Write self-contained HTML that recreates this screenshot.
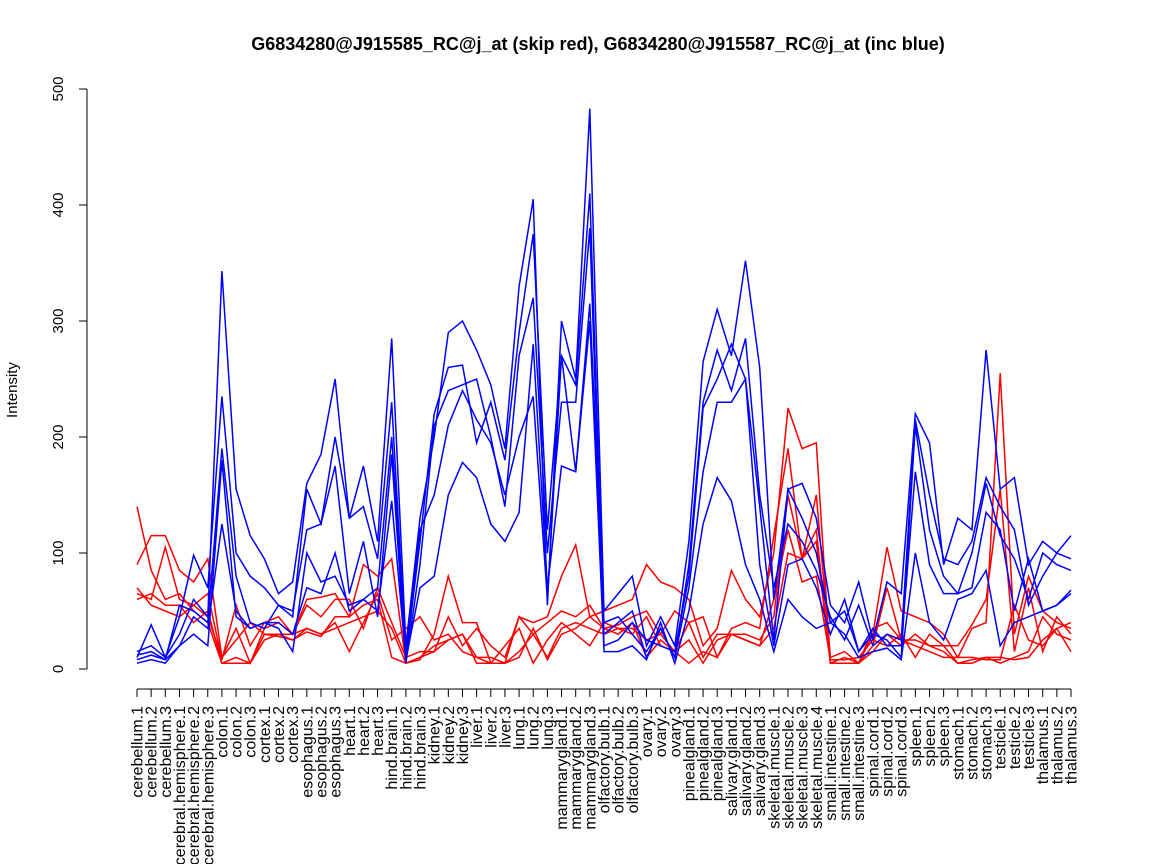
<!DOCTYPE html>
<html><head><meta charset="utf-8">
<style>
html,body{margin:0;padding:0;background:#fff;}
svg{display:block;font-family:"Liberation Sans",sans-serif;}
</style></head>
<body>
<svg id="chart" width="1152" height="864" viewBox="0 0 1152 864" xmlns="http://www.w3.org/2000/svg">
<text x="598" y="50" text-anchor="middle" font-size="18" font-weight="bold">G6834280@J915585_RC@j_at (skip red), G6834280@J915587_RC@j_at (inc blue)</text>
<text transform="translate(17,390) rotate(-90)" text-anchor="middle" font-size="15">Intensity</text>
<g id="axes"></g>
<g id="series"></g>
</svg>
<script>
const categories = ["cerebellum.1","cerebellum.2","cerebellum.3","cerebral.hemisphere.1","cerebral.hemisphere.2","cerebral.hemisphere.3","colon.1","colon.2","colon.3","cortex.1","cortex.2","cortex.3","esophagus.1","esophagus.2","esophagus.3","heart.1","heart.2","heart.3","hind.brain.1","hind.brain.2","hind.brain.3","kidney.1","kidney.2","kidney.3","liver.1","liver.2","liver.3","lung.1","lung.2","lung.3","mammarygland.1","mammarygland.2","mammarygland.3","olfactory.bulb.1","olfactory.bulb.2","olfactory.bulb.3","ovary.1","ovary.2","ovary.3","pinealgland.1","pinealgland.2","pinealgland.3","salivary.gland.1","salivary.gland.2","salivary.gland.3","skeletal.muscle.1","skeletal.muscle.2","skeletal.muscle.3","skeletal.muscle.4","small.intestine.1","small.intestine.2","small.intestine.3","spinal.cord.1","spinal.cord.2","spinal.cord.3","spleen.1","spleen.2","spleen.3","stomach.1","stomach.2","stomach.3","testicle.1","testicle.2","testicle.3","thalamus.1","thalamus.2","thalamus.3"];
const yTicks = [0,100,200,300,400,500];
const blue1 = [15,20,10,30,60,45,343,155,115,95,65,75,160,185,250,130,175,110,285,20,130,200,290,300,275,245,190,330,405,55,300,250,483,50,65,80,20,45,20,110,265,310,270,352,260,60,155,160,130,55,40,75,25,75,65,220,195,90,130,120,275,155,165,90,110,100,115];
const blue2 = [10,38,10,45,98,70,235,100,80,70,55,50,120,125,200,130,140,95,230,10,110,220,260,262,195,230,180,290,375,120,270,245,410,30,40,50,10,35,10,90,230,275,240,285,150,70,125,110,85,45,25,55,20,30,25,215,150,95,90,110,165,140,120,55,80,100,95];
const blue3 = [8,12,8,55,50,40,190,80,40,35,55,45,155,125,175,65,110,45,185,5,90,210,240,245,250,200,140,270,320,100,230,230,380,20,25,40,25,20,15,80,225,250,280,250,140,25,155,130,100,40,50,15,30,25,10,210,120,80,65,100,160,115,95,60,100,90,85];
const blue4 = [12,15,8,20,45,35,125,50,35,40,40,30,70,65,100,50,60,70,200,15,120,150,210,240,215,195,150,200,235,60,270,170,315,40,45,30,15,35,10,70,170,230,230,250,90,20,90,95,70,30,60,15,35,20,20,170,90,65,65,70,135,120,50,95,50,55,65];
const blue5 = [5,8,5,20,30,20,180,45,35,40,35,15,100,75,80,55,60,50,145,8,70,80,150,178,165,125,110,135,280,70,175,170,300,15,15,20,8,40,5,50,125,165,145,90,60,15,60,45,35,40,30,10,15,18,8,100,40,25,60,65,85,20,40,45,50,55,68];
const red1 = [140,85,60,65,50,40,5,10,5,35,40,30,60,62,65,45,90,80,95,5,8,30,80,40,40,5,5,45,40,45,80,107,45,50,55,60,90,75,70,60,20,35,85,60,45,100,225,190,195,5,5,5,30,105,50,45,40,30,10,35,40,255,30,80,50,40,35];
const red2 = [90,115,115,85,75,95,10,25,40,30,30,30,55,45,60,60,35,70,40,10,15,15,45,20,35,20,10,45,30,40,50,45,55,35,38,45,50,30,50,40,45,10,35,40,35,115,190,95,150,10,15,5,20,70,25,25,20,20,20,38,60,155,15,70,15,45,30];
const red3 = [65,60,105,60,55,65,8,55,20,40,45,30,35,30,40,15,40,65,25,35,45,25,30,15,10,10,5,15,30,10,35,40,35,30,35,35,25,30,15,40,10,30,30,30,25,45,150,95,120,5,10,5,35,40,25,20,15,10,10,10,8,8,55,25,20,35,15];
const red4 = [70,55,50,45,55,45,10,35,5,30,28,25,32,28,45,45,55,60,10,5,10,15,25,30,5,5,20,35,5,25,40,30,20,40,35,30,45,20,15,25,5,25,30,25,20,60,120,75,80,8,8,10,25,20,30,10,30,20,5,8,10,5,10,15,45,30,25];
const red5 = [60,65,55,55,40,50,5,5,5,25,30,25,35,30,35,40,45,50,35,5,10,20,25,30,10,5,5,10,35,8,30,35,45,35,30,40,10,25,15,5,15,10,30,25,20,35,100,95,110,5,5,5,15,30,20,30,20,15,5,5,10,10,8,10,25,35,40];
const blueSeries = [blue1,blue2,blue3,blue4,blue5];
const redSeries = [red1,red2,red3,red4,red5];

const NS = "http://www.w3.org/2000/svg";
const x0 = 137, x1 = 1071, yBase = 669, yTop = 89;
function xPos(i){ return x0 + i*(x1-x0)/(categories.length-1); }
function yPos(v){ return yBase - v*(yBase-yTop)/500; }
const axes = document.getElementById('axes');
const series = document.getElementById('series');
function mk(tag, attrs, parent){ const e=document.createElementNS(NS,tag); for(const k in attrs) e.setAttribute(k,attrs[k]); parent.appendChild(e); return e; }

const yAxis = mk('line',{x1:87,y1:yPos(0),x2:87,y2:yPos(500),stroke:'#000','stroke-width':1},axes);


yTicks.forEach(v=>{
  const t = mk('line',{x1:79,y1:yPos(v),x2:87,y2:yPos(v),stroke:'#000'},axes);
  
  
  const l = mk('text',{transform:`translate(63,${yPos(v)}) rotate(-90)`,'text-anchor':'middle','font-size':15},axes);
  l.textContent = v;
  
  
});
const xAxis = mk('line',{x1:x0,y1:689,x2:x1,y2:689,stroke:'#000'},axes);


categories.forEach((c,i)=>{
  const t = mk('line',{x1:xPos(i),y1:689,x2:xPos(i),y2:697,stroke:'#000'},axes);
  
  
  const l = mk('text',{transform:`translate(${xPos(i)+5.5},706) rotate(-90)`,'text-anchor':'end','font-size':16},axes);
  l.textContent = c;
  
  
});
function drawSeries(arr, color, name){
  const pts = arr.map((v,i)=>xPos(i).toFixed(1)+','+yPos(v).toFixed(1)).join(' ');
  const p = mk('polyline',{points:pts,fill:'none',stroke:color,'stroke-width':1.5},series);
  
  
}
redSeries.forEach((s,k)=>drawSeries(s,'#ff0000','red-series-'+(k+1)));
blueSeries.forEach((s,k)=>drawSeries(s,'#0000ff','blue-series-'+(k+1)));
</script>
</body></html>
